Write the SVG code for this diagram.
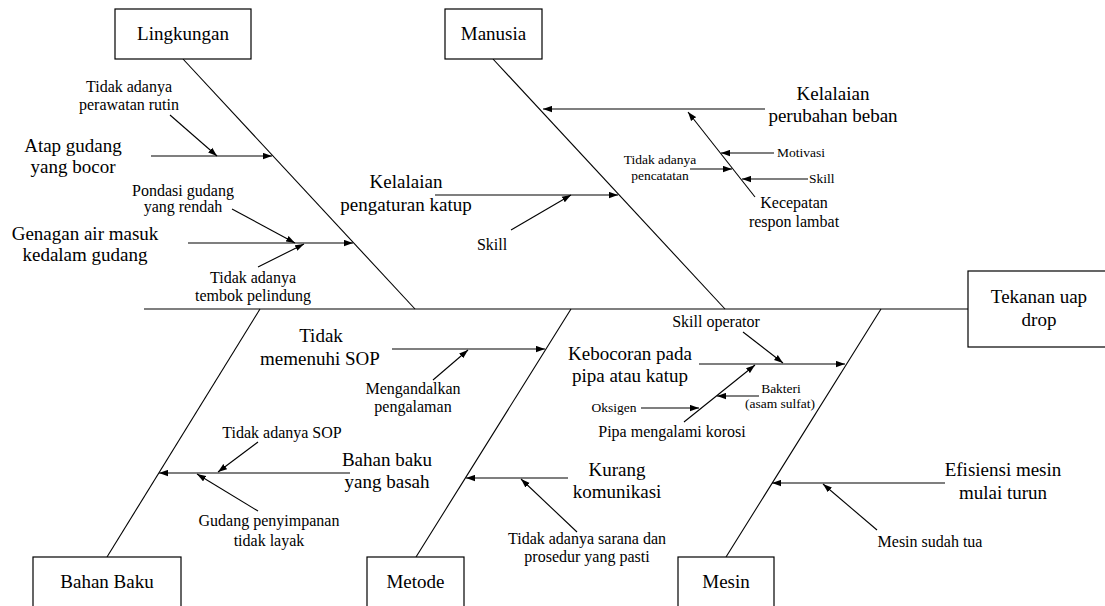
<svg xmlns="http://www.w3.org/2000/svg" width="1105" height="606" viewBox="0 0 1105 606" font-family="Liberation Serif, Times New Roman, DejaVu Serif, serif">
<style>
text{fill:#000;text-anchor:middle}
.L{font-size:19px}
.M{font-size:16px}
.S{font-size:13.5px}
.st{text-anchor:start}
.box{fill:#fff;stroke:#000;stroke-width:1.2}
.ln{stroke:#000;stroke-width:1.1;fill:none}
.ar{stroke:#000;stroke-width:1.1;fill:none;marker-end:url(#ah)}
</style>
<defs>
<marker id="ah" viewBox="0 0 10 7" refX="10" refY="3.5" markerWidth="9" markerHeight="7" markerUnits="userSpaceOnUse" orient="auto">
<path d="M0,0 L10,3.5 L0,7 z" fill="#000"/>
</marker>
</defs>
<rect width="1105" height="606" fill="#fff"/>
<g id="connectors">
<line class="ln" x1="144" y1="309" x2="968" y2="309"/>
<line class="ln" x1="183" y1="59" x2="415" y2="309"/>
<line class="ln" x1="493" y1="59" x2="725" y2="309"/>
<line class="ln" x1="260" y1="309" x2="107" y2="557"/>
<line class="ln" x1="571" y1="309" x2="416" y2="557"/>
<line class="ln" x1="881" y1="309" x2="726" y2="557"/>
<line class="ar" x1="151" y1="156" x2="272" y2="156"/>
<line class="ar" x1="170" y1="115" x2="217" y2="156"/>
<line class="ar" x1="188" y1="243" x2="353" y2="243"/>
<line class="ar" x1="232" y1="209" x2="295" y2="243"/>
<line class="ar" x1="258" y1="267" x2="304" y2="244"/>
<line class="ar" x1="435" y1="195" x2="618" y2="195"/>
<line class="ar" x1="511" y1="230" x2="571" y2="195"/>
<line class="ar" x1="765" y1="109" x2="543" y2="109"/>
<line class="ar" x1="755" y1="197" x2="688" y2="112"/>
<line class="ar" x1="774" y1="153" x2="721" y2="153"/>
<line class="ar" x1="690" y1="169" x2="732" y2="169"/>
<line class="ar" x1="808" y1="179" x2="742" y2="179"/>
<line class="ar" x1="350" y1="473" x2="159" y2="473"/>
<line class="ar" x1="258" y1="442" x2="218" y2="472"/>
<line class="ar" x1="258" y1="511" x2="197" y2="474"/>
<line class="ar" x1="392" y1="349" x2="545" y2="349"/>
<line class="ar" x1="433" y1="380" x2="468" y2="350"/>
<line class="ar" x1="568" y1="478" x2="466" y2="478"/>
<line class="ar" x1="577" y1="532" x2="521" y2="479"/>
<line class="ar" x1="699" y1="364" x2="845" y2="364"/>
<line class="ar" x1="743" y1="332" x2="783" y2="363"/>
<line class="ar" x1="684" y1="422" x2="755" y2="365"/>
<line class="ar" x1="641" y1="408" x2="699" y2="408"/>
<line class="ar" x1="759" y1="396" x2="717" y2="396"/>
<line class="ar" x1="945" y1="483" x2="772" y2="483"/>
<line class="ar" x1="877" y1="530" x2="823" y2="484"/>
</g>
<g id="lingkungan"><rect class="box" x="115" y="9" width="136" height="50"/><text class="L" x="183" y="40">Lingkungan</text></g>
<g id="manusia"><rect class="box" x="445" y="9" width="97" height="50"/><text class="L" x="493.5" y="40">Manusia</text></g>
<g id="tekanan"><rect class="box" x="968" y="271" width="140" height="76"/><text class="L" x="1039" y="303">Tekanan uap</text><text class="L" x="1039" y="326">drop</text></g>
<g id="bahanbaku"><rect class="box" x="33" y="557" width="148" height="60"/><text class="L" x="107" y="588">Bahan Baku</text></g>
<g id="metode"><rect class="box" x="367" y="557" width="97" height="60"/><text class="L" x="415.5" y="588">Metode</text></g>
<g id="mesin"><rect class="box" x="678" y="557" width="96" height="60"/><text class="L" x="726" y="588">Mesin</text></g>
<g id="atap"><text class="L" x="73" y="152">Atap gudang</text><text class="L" x="73" y="173">yang bocor</text></g>
<g id="perawatan"><text class="M" x="129" y="92">Tidak adanya</text><text class="M" x="129" y="110">perawatan rutin</text></g>
<g id="genagan"><text class="L" x="85" y="240">Genagan air masuk</text><text class="L" x="85" y="261">kedalam gudang</text></g>
<g id="pondasi"><text class="M" x="183" y="196">Pondasi gudang</text><text class="M" x="183" y="212">yang rendah</text></g>
<g id="tembok"><text class="M" x="253" y="283">Tidak adanya</text><text class="M" x="253" y="301">tembok pelindung</text></g>
<g id="katup"><text class="L" x="406" y="188">Kelalaian</text><text class="L" x="406" y="211">pengaturan katup</text></g>
<g id="skill1"><text class="M" x="492" y="250">Skill</text></g>
<g id="beban"><text class="L" x="833" y="100">Kelalaian</text><text class="L" x="833" y="122">perubahan beban</text></g>
<g id="respon"><text class="M" x="794" y="208">Kecepatan</text><text class="M" x="794" y="227">respon lambat</text></g>
<g id="motivasi"><text class="S st" x="777" y="157">Motivasi</text></g>
<g id="pencatatan"><text class="S" x="660" y="164">Tidak adanya</text><text class="S" x="660" y="180">pencatatan</text></g>
<g id="skill2"><text class="S st" x="809" y="183">Skill</text></g>
<g id="basah"><text class="L" x="387" y="466">Bahan baku</text><text class="L" x="387" y="488">yang basah</text></g>
<g id="sop"><text class="M" x="282" y="438">Tidak adanya SOP</text></g>
<g id="gudang"><text class="M" x="269" y="526">Gudang penyimpanan</text><text class="M" x="269" y="546">tidak layak</text></g>
<g id="memenuhi"><text class="L" x="321" y="342">Tidak</text><text class="L" x="320" y="365">memenuhi SOP</text></g>
<g id="pengalaman"><text class="M" x="413" y="394">Mengandalkan</text><text class="M" x="413" y="412">pengalaman</text></g>
<g id="komunikasi"><text class="L" x="617" y="476">Kurang</text><text class="L" x="617" y="498">komunikasi</text></g>
<g id="sarana"><text class="M" x="587" y="544">Tidak adanya sarana dan</text><text class="M" x="587" y="562">prosedur yang pasti</text></g>
<g id="kebocoran"><text class="L" x="630" y="360">Kebocoran pada</text><text class="L" x="630" y="382">pipa atau katup</text></g>
<g id="skilloperator"><text class="M" x="716" y="327">Skill operator</text></g>
<g id="korosi"><text class="M" x="672" y="437">Pipa mengalami korosi</text></g>
<g id="oksigen"><text class="S" x="614" y="412">Oksigen</text></g>
<g id="bakteri"><text class="S" x="781" y="393">Bakteri</text><text class="S" x="780" y="408">(asam sulfat)</text></g>
<g id="efisiensi"><text class="L" x="1003" y="476">Efisiensi mesin</text><text class="L" x="1003" y="499">mulai turun</text></g>
<g id="tua"><text class="M" x="930" y="547">Mesin sudah tua</text></g>
</svg>
